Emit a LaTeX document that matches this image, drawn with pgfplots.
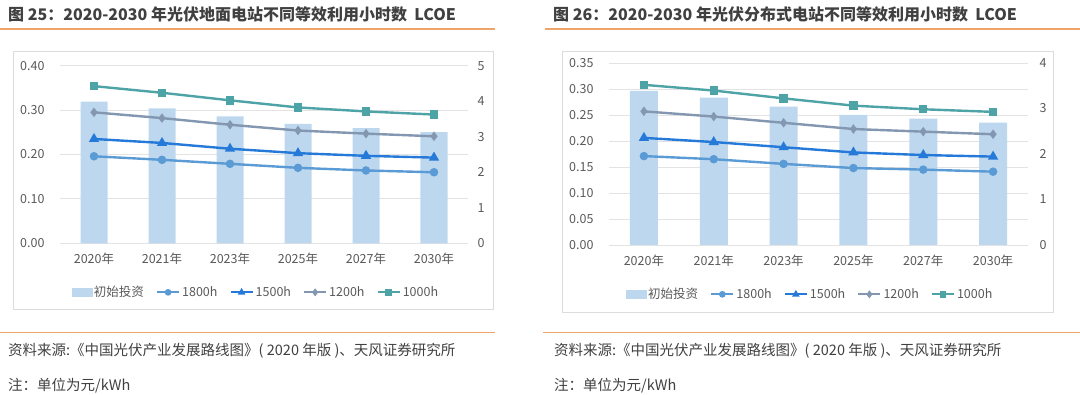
\documentclass[border=0pt]{standalone}
\usepackage{pgfplots}
\pgfplotsset{compat=1.18}
\usepackage{pgfplotstable}
\usepackage{fontspec}
\setmainfont{Noto Sans CJK SC}
\definecolor{barcol}{HTML}{BDD7EE}
\definecolor{c1800}{HTML}{5B9BD5}
\definecolor{c1500}{HTML}{2479D9}
\definecolor{c1200}{HTML}{8497B0}
\definecolor{c1000}{HTML}{4DA3A6}
\definecolor{gridgray}{HTML}{E3E3E3}
\definecolor{txtgray}{HTML}{595959}
\definecolor{titlegray}{HTML}{404040}
\definecolor{orangeline}{HTML}{F0A46A}
\definecolor{boxgray}{HTML}{DCDCDC}

\pgfplotstableread{
x inv h1800 h1500 h1200 h1000
0 3.99 0.196 0.235 0.295 0.354
1 3.80 0.188 0.226 0.282 0.339
2 3.57 0.179 0.213 0.267 0.322
3 3.36 0.170 0.203 0.254 0.306
4 3.24 0.164 0.197 0.247 0.297
5 3.13 0.160 0.193 0.241 0.290
}\leftdata
\pgfplotstableread{
x inv h1800 h1500 h1200 h1000
0 3.39 0.171 0.206 0.257 0.308
1 3.24 0.165 0.198 0.247 0.297
2 3.04 0.156 0.188 0.235 0.282
3 2.86 0.148 0.178 0.223 0.268
4 2.78 0.145 0.173 0.218 0.261
5 2.69 0.141 0.170 0.213 0.256
}\rightdata

\pgfplotsset{
  base/.style={
    scale only axis, xmin=-0.5, xmax=5.5,
    axis line style={draw=none},
    tick style={draw=none}, major tick length=0pt,
    tick label style={font=\fontsize{12.5}{14}\selectfont, text=txtgray},
    /pgf/number format/assume math mode=true,
  },
  lineplot/.style={line width=2.4pt, mark options={solid}},
  legimg/.style={legend image code/.code={\draw[mark repeat=2,mark phase=2,line width=2.2pt, mark size=2.2pt] plot coordinates {(0pt,0pt)(11pt,0pt)(22pt,0pt)};}},
}

\begin{document}
\begin{tikzpicture}[x=1pt,y=1pt]
\path[use as bounding box] (0,0) rectangle (1080,394);

% ================= LEFT PANEL =================
\node[anchor=west, inner sep=0pt, text=titlegray, font=\fontsize{16}{18}\selectfont\bfseries] at (8,380) {图 25：2020-2030 年光伏地面电站不同等效利用小时数\ \ LCOE};
\draw[orangeline, line width=1.2pt] (0,365) -- (495,365);
\draw[boxgray, line width=1pt] (13,84) rectangle (493,342);

\begin{axis}[base, at={(60pt,150.7pt)}, anchor=south west, width=408pt, height=177.6pt,
  ymin=0, ymax=0.4, ytick={0,0.1,0.2,0.3,0.4},
  yticklabel style={anchor=east, xshift=-12pt, /pgf/number format/.cd, fixed, fixed zerofill, precision=2},
  ymajorgrids, major grid style={gridgray, line width=0.9pt},
  xtick={0,1,2,3,4,5}, xticklabels={2020年,2021年,2023年,2025年,2027年,2030年},
  xticklabel style={anchor=north, yshift=-6pt}]
\end{axis}

\begin{axis}[base, at={(60pt,150.7pt)}, anchor=south west, width=408pt, height=177.6pt,
  ymin=0, ymax=5, ytick={0,1,2,3,4,5}, xtick=\empty,
  ytick pos=right, yticklabel pos=right,
  yticklabel style={anchor=west, xshift=6pt}]
\addplot[ybar, bar width=27pt, fill=barcol, draw=none] table[x=x, y=inv] {\leftdata};
\end{axis}

\begin{axis}[base, hide axis, at={(60pt,150.7pt)}, anchor=south west, width=408pt, height=177.6pt,
  ymin=0, ymax=0.4,
  legend columns=5,
  legend style={draw=none, fill=none, at={(0.48,-0.276)}, anchor=center,
    font=\fontsize{12.5}{14}\selectfont, text=txtgray,
    /tikz/every even column/.append style={column sep=10pt},
    legend cell align=left, inner sep=0pt},
  ]
\addlegendimage{legend image code/.code={\fill[barcol] (0pt,-4pt) rectangle (20pt,4pt);}}
\addlegendentry{初始投资}
\addplot[lineplot, c1800, mark=*, mark size=3pt, legimg] table[x=x, y=h1800] {\leftdata};
\addlegendentry{1800h}
\addplot[lineplot, c1500, mark=triangle*, mark size=3.6pt, legimg] table[x=x, y=h1500] {\leftdata};
\addlegendentry{1500h}
\addplot[lineplot, c1200, mark=diamond*, mark size=2.8pt, legimg] table[x=x, y=h1200] {\leftdata};
\addlegendentry{1200h}
\addplot[lineplot, c1000, mark=square*, mark size=3pt, legimg] table[x=x, y=h1000] {\leftdata};
\addlegendentry{1000h}
\end{axis}

\draw[orangeline, line width=1.2pt] (0,61.3) -- (495,61.3);
\node[anchor=west, inner sep=0pt, text=titlegray, font=\fontsize{14.5}{16}\selectfont] at (8,43.3) {资料来源:《中国光伏产业发展路线图》( 2020 年版 )、天风证券研究所};
\node[anchor=west, inner sep=0pt, text=titlegray, font=\fontsize{14.5}{16}\selectfont] at (8,8) {注：单位为元/kWh};

% ================= RIGHT PANEL =================
\node[anchor=west, inner sep=0pt, text=titlegray, font=\fontsize{16}{18}\selectfont\bfseries] at (553,380) {图 26：2020-2030 年光伏分布式电站不同等效利用小时数\ \ LCOE};
\draw[orangeline, line width=1.2pt] (545,365) -- (1080,365);
\draw[boxgray, line width=1pt] (562,81) rectangle (1053,342);

\begin{axis}[base, at={(609pt,149pt)}, anchor=south west, width=419pt, height=182pt,
  ymin=0, ymax=0.35, ytick={0,0.05,0.1,0.15,0.2,0.25,0.3,0.35},
  yticklabel style={anchor=east, xshift=-12pt, /pgf/number format/.cd, fixed, fixed zerofill, precision=2},
  ymajorgrids, major grid style={gridgray, line width=0.9pt},
  xtick={0,1,2,3,4,5}, xticklabels={2020年,2021年,2023年,2025年,2027年,2030年},
  xticklabel style={anchor=north, yshift=-6pt}]
\end{axis}

\begin{axis}[base, at={(609pt,149pt)}, anchor=south west, width=419pt, height=182pt,
  ymin=0, ymax=4, ytick={0,1,2,3,4}, xtick=\empty,
  ytick pos=right, yticklabel pos=right,
  yticklabel style={anchor=west, xshift=8pt}]
\addplot[ybar, bar width=28pt, fill=barcol, draw=none] table[x=x, y=inv] {\rightdata};
\end{axis}

\begin{axis}[base, hide axis, at={(609pt,149pt)}, anchor=south west, width=419pt, height=182pt,
  ymin=0, ymax=0.35,
  legend columns=5,
  legend style={draw=none, fill=none, at={(0.48,-0.271)}, anchor=center,
    font=\fontsize{12.5}{14}\selectfont, text=txtgray,
    /tikz/every even column/.append style={column sep=10pt},
    legend cell align=left, inner sep=0pt},
  ]
\addlegendimage{legend image code/.code={\fill[barcol] (0pt,-4pt) rectangle (20pt,4pt);}}
\addlegendentry{初始投资}
\addplot[lineplot, c1800, mark=*, mark size=3pt, legimg] table[x=x, y=h1800] {\rightdata};
\addlegendentry{1800h}
\addplot[lineplot, c1500, mark=triangle*, mark size=3.6pt, legimg] table[x=x, y=h1500] {\rightdata};
\addlegendentry{1500h}
\addplot[lineplot, c1200, mark=diamond*, mark size=2.8pt, legimg] table[x=x, y=h1200] {\rightdata};
\addlegendentry{1200h}
\addplot[lineplot, c1000, mark=square*, mark size=3pt, legimg] table[x=x, y=h1000] {\rightdata};
\addlegendentry{1000h}
\end{axis}

\draw[orangeline, line width=1.2pt] (543,61.3) -- (1080,61.3);
\node[anchor=west, inner sep=0pt, text=titlegray, font=\fontsize{14.5}{16}\selectfont] at (554,43.3) {资料来源:《中国光伏产业发展路线图》( 2020 年版 )、天风证券研究所};
\node[anchor=west, inner sep=0pt, text=titlegray, font=\fontsize{14.5}{16}\selectfont] at (554,8) {注：单位为元/kWh};
\end{tikzpicture}
\end{document}
